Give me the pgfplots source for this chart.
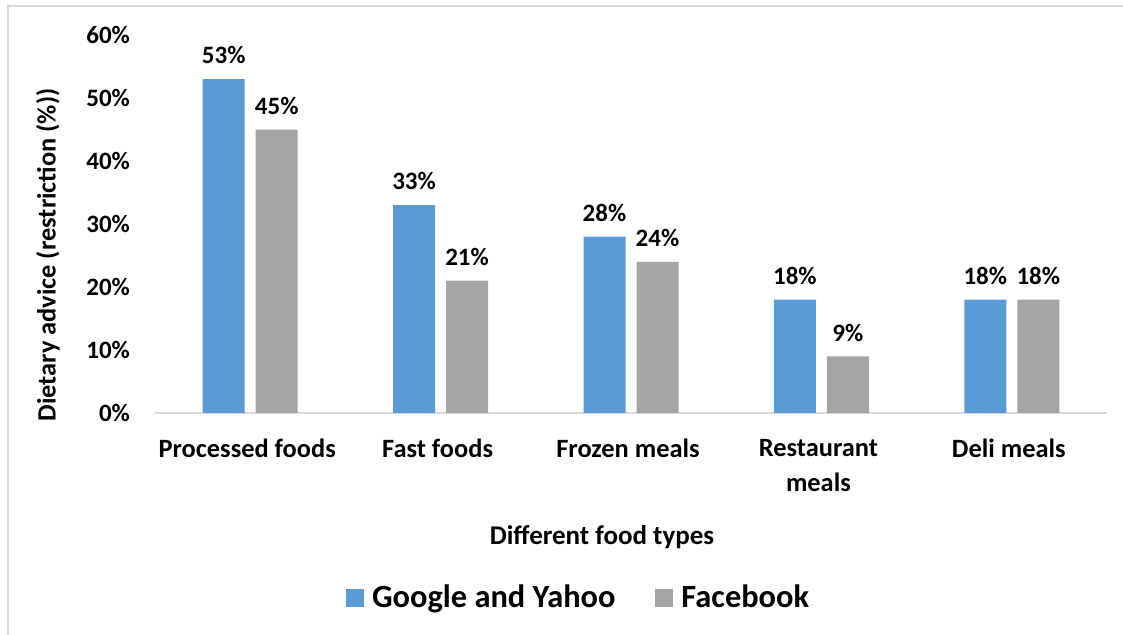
\documentclass[border=0pt]{standalone}
\usepackage{pgfplots}
\pgfplotsset{compat=1.18}
\usepackage{fontspec}
\setmainfont{Carlito}
\definecolor{cblue}{HTML}{5B9BD5}
\definecolor{cgray}{HTML}{A5A5A5}
\definecolor{cline}{HTML}{D9D9D9}
\begin{document}
\begin{tikzpicture}
% page frame: 1123x635 px at 0.5pt per px
\path[use as bounding box] (0pt,0pt) rectangle (561.5pt,317.5pt);
\draw[cline, line width=1pt] (4pt,-1pt) -- (4pt,314.5pt) -- (562.5pt,314.5pt);
\begin{axis}[
  at={(77.5pt,111pt)}, anchor=south west,
  scale only axis, width=476pt, height=189pt,
  xmin=-0.5, xmax=4.5, ymin=0, ymax=60,
  ybar, bar width=21pt,
  axis x line=bottom, axis y line=left,
  x axis line style={draw=cline, line width=1pt, -},
  y axis line style={draw=none},
  major tick length=0pt,
  xtick={0,1,2,3,4},
  xticklabels={Processed foods, Fast foods, Frozen meals, Restaurant\\meals, Deli meals},
  xticklabel style={align=center, font=\fontsize{13.2}{17.5}\selectfont\bfseries, anchor=north, yshift=-9.5pt, xshift=-1.5pt},
  ytick={0,10,...,60},
  yticklabel={\pgfmathprintnumber{\tick}\%},
  yticklabel style={font=\fontsize{12.5}{15}\selectfont\bfseries, anchor=east, xshift=-9pt},
  /pgf/number format/assume math mode=true,
  nodes near coords={\pgfmathprintnumber{\pgfplotspointmeta}\%},
  nodes near coords style={font=\fontsize{12.5}{15}\selectfont\bfseries, black, anchor=south, yshift=4pt},
  legend style={at={(0.446,-0.489)}, anchor=center, draw=none, legend columns=2,
    font=\fontsize{16.2}{19}\selectfont\bfseries,
    /tikz/every odd column/.append style={column sep=2pt},
    /tikz/every even column/.append style={column sep=18pt}},
  legend image code/.code={\fill[#1] (0pt,-4.5pt) rectangle (9pt,4.5pt);},
]
\addplot[draw=none, fill=cblue, bar shift=-13.25pt] coordinates {(0,53) (1,33) (2,28) (3,18) (4,18)};
\addplot[draw=none, fill=cgray, bar shift=13.25pt] coordinates {(0,45) (1,21) (2,24) (3,9) (4,18)};
\legend{Google and Yahoo, Facebook}
\end{axis}
\node[rotate=90, font=\fontsize{13.2}{15}\selectfont\bfseries] at (24pt,190pt) {Dietary advice (restriction (\%))};
\node[font=\fontsize{13.5}{16}\selectfont\bfseries] at (301pt,49pt) {Different food types};
\end{tikzpicture}
\end{document}
